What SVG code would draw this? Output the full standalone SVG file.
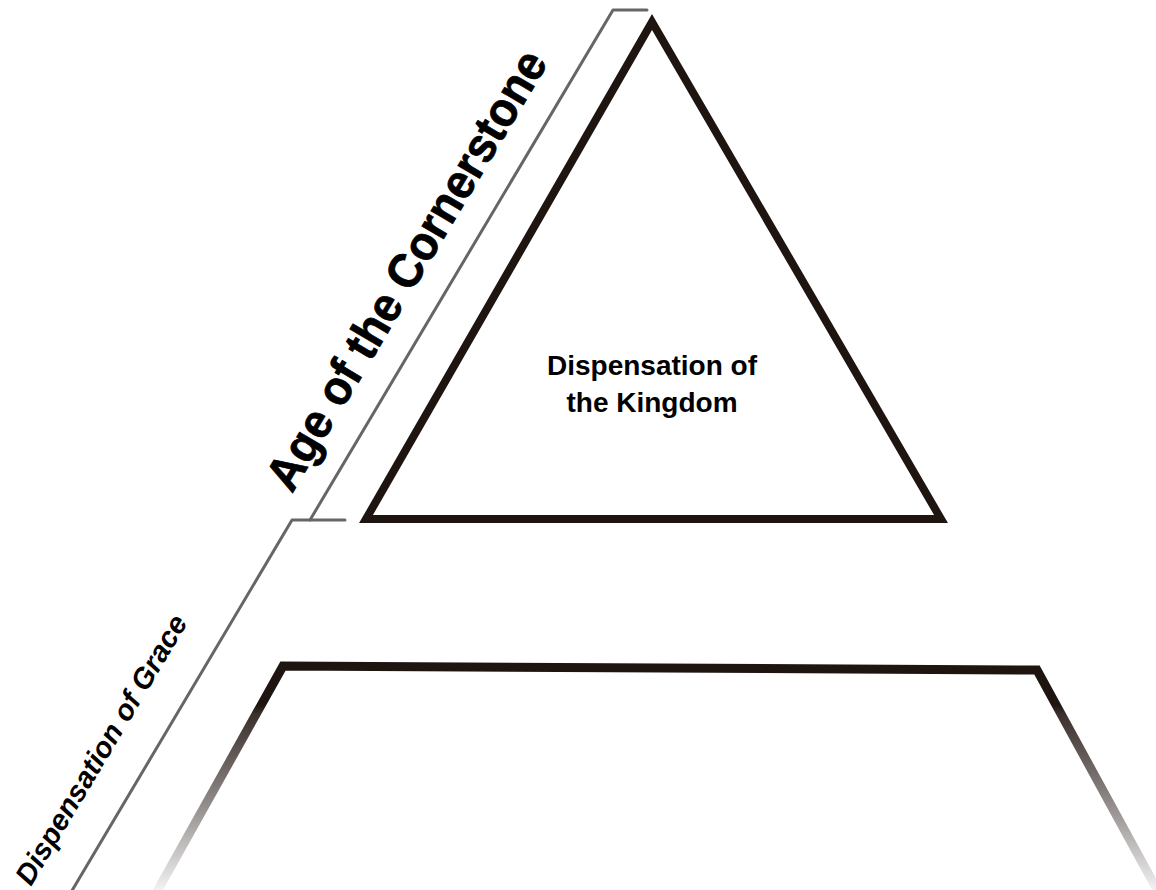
<svg xmlns="http://www.w3.org/2000/svg" width="1156" height="890" viewBox="0 0 1156 890">
  <defs>
    <style>
      .bracket { fill: none; stroke: #666666; stroke-width: 3; stroke-linecap: round; stroke-linejoin: round; }
      .shape { fill: none; stroke: #1e1410; stroke-width: 8; stroke-linejoin: miter; }
      .label { font-family: "Liberation Sans", Arial, sans-serif; font-weight: bold; fill: #000000; }
      .side { font-family: "Liberation Sans", Arial, sans-serif; font-style: italic; fill: #000000; }
    </style>
    <linearGradient id="fade" gradientUnits="userSpaceOnUse" x1="0" y1="705" x2="0" y2="890">
      <stop offset="0" stop-color="#1e1410"/>
      <stop offset="0.05" stop-color="#3a302c"/>
      <stop offset="0.5" stop-color="#8a8482"/>
      <stop offset="1" stop-color="#f2f2f2"/>
    </linearGradient>
  </defs>
  <rect width="1156" height="890" fill="#ffffff"/>

  <g id="connectors">
    <polyline class="bracket" points="647,10 613,10 310,520"/>
    <polyline class="bracket" points="345,520 292,520 70,894"/>
  </g>

  <g id="kingdom">
    <polygon class="shape" points="652,22 941,519 366,519"/>
    <text class="label" font-size="28" text-anchor="middle" x="652" y="375">Dispensation of</text>
    <text class="label" font-size="28" text-anchor="middle" x="652" y="412">the Kingdom</text>
  </g>

  <g id="grace">
    <polyline fill="none" stroke="url(#fade)" stroke-width="9" stroke-linejoin="miter" points="155,895 283,666 1037,670 1160,895"/>
  </g>

  <g id="age-label">
    <text class="label" font-size="48" transform="translate(292,494) rotate(-59.26)" x="0" y="0" textLength="502" lengthAdjust="spacingAndGlyphs" stroke="#000000" stroke-width="0.8">Age of the Cornerstone</text>
  </g>

  <g id="grace-label">
    <text class="side" font-size="29" font-weight="600" transform="translate(31,887) rotate(-59.26)" x="0" y="0">Dispensation of Grace</text>
  </g>
</svg>
